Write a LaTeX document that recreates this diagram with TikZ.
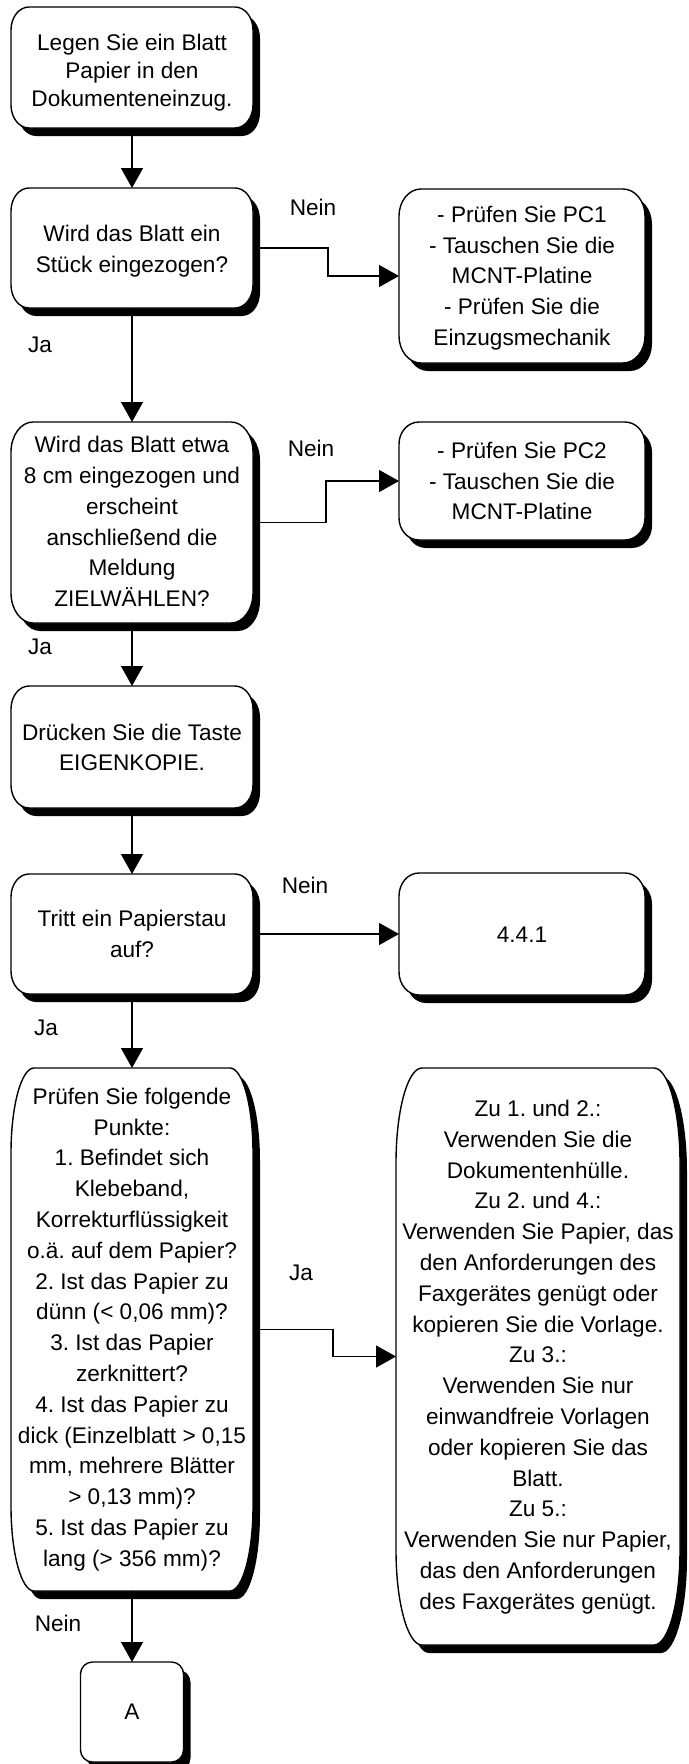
\documentclass[tikz,border=0pt]{standalone}
\usepackage{fontspec}
\setmainfont{Liberation Sans}
\frenchspacing
\usetikzlibrary{arrows.meta,calc}
\pgfdeclarelayer{background}
\pgfsetlayers{background,main}
\newcommand\shapebox[3]{%
\begin{pgfonlayer}{background}
\fill[black]
 ([xshift=7pt+#2,yshift=-8pt]#1.north west) -- ([xshift=7pt-#2,yshift=-8pt]#1.north east)
 arc[start angle=90,end angle=0,x radius=#2,y radius=#3]
 -- ([xshift=7pt,yshift=-8pt+#3]#1.south east)
 arc[start angle=0,end angle=-90,x radius=#2,y radius=#3]
 -- ([xshift=7pt+#2,yshift=-8pt]#1.south west)
 arc[start angle=-90,end angle=-180,x radius=#2,y radius=#3]
 -- ([xshift=7pt,yshift=-8pt-#3]#1.north west)
 arc[start angle=180,end angle=90,x radius=#2,y radius=#3] -- cycle;
\draw[boxline]
 ([xshift=#2]#1.north west) -- ([xshift=-#2]#1.north east)
 arc[start angle=90,end angle=0,x radius=#2,y radius=#3]
 -- ([yshift=#3]#1.south east)
 arc[start angle=0,end angle=-90,x radius=#2,y radius=#3]
 -- ([xshift=#2]#1.south west)
 arc[start angle=-90,end angle=-180,x radius=#2,y radius=#3]
 -- ([yshift=-#3]#1.north west)
 arc[start angle=180,end angle=90,x radius=#2,y radius=#3] -- cycle;
\end{pgfonlayer}}
\begin{document}
\begin{tikzpicture}[x=1pt,y=-1pt,
  boxframe/.style={inner sep=0pt,outer sep=0pt,draw=none},
  boxline/.style={draw=black,line width=1.4pt,fill=white},
  txt/.style={align=center,inner sep=0pt,font=\fontsize{22.6pt}{30.8pt}\selectfont},
  lbl/.style={inner sep=0pt,font=\fontsize{22.6pt}{30.8pt}\selectfont},
  conn/.style={line width=1.4pt,-{Triangle[length=20pt,width=22pt]}}]
\useasboundingbox (0,0) rectangle (688,1764);
\begin{pgfonlayer}{background}
\fill[white] (0,0) rectangle (688,1764);
\end{pgfonlayer}

% left column
\node[boxframe,minimum width=242pt,minimum height=121pt] (b1) at (132,67.5) {};
\node[txt,font=\fontsize{22.6pt}{28pt}\selectfont] (b1t) at (132,73) {Legen Sie ein Blatt\\Papier in den\\Dokumenteneinzug.};
\shapebox{b1}{18pt}{23pt}

\node[boxframe,minimum width=242pt,minimum height=120pt] (b2) at (132,248) {};
\node[txt] (b2t) at (132,251) {Wird das Blatt ein\\Stück eingezogen?};
\shapebox{b2}{18pt}{23pt}

\node[boxframe,minimum width=242pt,minimum height=201pt] (b3) at (132,522.5) {};
\node[txt] (b3t) at (132,521.5) {Wird das Blatt etwa\\8 cm eingezogen und\\erscheint\\anschließend die\\Meldung\\ZIELWÄHLEN?};
\shapebox{b3}{22pt}{30pt}

\node[boxframe,minimum width=242pt,minimum height=122pt] (b4) at (132,747) {};
\node[txt] (b4t) at (132,747.5) {Drücken Sie die Taste\\EIGENKOPIE.};
\shapebox{b4}{18pt}{23pt}

\node[boxframe,minimum width=242pt,minimum height=120pt] (b5) at (132,934) {};
\node[txt] (b5t) at (132,934) {Tritt ein Papierstau\\auf?};
\shapebox{b5}{18pt}{23pt}

\node[boxframe,minimum width=242pt,minimum height=523pt] (b6) at (132,1329.5) {};
\node[txt] (b6t) at (132,1329.5) {Prüfen Sie folgende\\Punkte:\\1. Befindet sich\\Klebeband,\\Korrekturflüssigkeit\\o.ä. auf dem Papier?\\2. Ist das Papier zu\\dünn (< 0,06 mm)?\\3. Ist das Papier\\zerknittert?\\4. Ist das Papier zu\\dick (Einzelblatt > 0,15\\mm, mehrere Blätter\\> 0,13 mm)?\\5. Ist das Papier zu\\lang (> 356 mm)?};
\shapebox{b6}{23pt}{85pt}

\node[boxframe,minimum width=103pt,minimum height=100pt] (bA) at (132,1712) {};
\node[txt] (bAt) at (132,1712) {A};
\shapebox{bA}{12pt}{12pt}

% right column
\node[boxframe,minimum width=246pt,minimum height=174pt] (r1) at (522,276) {};
\node[txt] (r1t) at (522,278) {- Prüfen Sie PC1\\- Tauschen Sie die\\MCNT-Platine\\- Prüfen Sie die\\Einzugsmechanik};
\shapebox{r1}{22pt}{27pt}

\node[boxframe,minimum width=246pt,minimum height=118pt] (r2) at (522,481) {};
\node[txt] (r2t) at (522,481) {- Prüfen Sie PC2\\- Tauschen Sie die\\MCNT-Platine};
\shapebox{r2}{20pt}{22pt}

\node[boxframe,minimum width=246pt,minimum height=122pt] (r3) at (522,934) {};
\node[txt] (r3t) at (522,935) {4.4.1};
\shapebox{r3}{20pt}{23pt}

\node[boxframe,minimum width=284pt,minimum height=577pt] (r4) at (538,1356.5) {};
\node[txt] (r4t) at (538,1357) {Zu 1. und 2.:\\Verwenden Sie die\\Dokumentenhülle.\\Zu 2. und 4.:\\Verwenden Sie Papier, das\\den Anforderungen des\\Faxgerätes genügt oder\\kopieren Sie die Vorlage.\\Zu 3.:\\Verwenden Sie nur\\einwandfreie Vorlagen\\oder kopieren Sie das\\Blatt.\\Zu 5.:\\Verwenden Sie nur Papier,\\das den Anforderungen\\des Faxgerätes genügt.};
\shapebox{r4}{26pt}{95pt}

% elbow points
\coordinate (k1) at (328,262);
\coordinate (k2) at (326,500);
\coordinate (k4) at (333,1343);

% connectors
\draw[conn] (b1.south) -- (b2.north);
\draw[conn] (b2.south) -- (b3.north);
\draw[conn] (b3.south) -- (b4.north);
\draw[conn] (b4.south) -- (b5.north);
\draw[conn] (b5.south) -- (b6.north);
\draw[conn] (b6.south) -- (bA.north);
\draw[conn] (b2.east) -| (k1) |- (r1.west);
\draw[conn] (b3.east) -| (k2) |- (r2.west);
\draw[conn] (b5.east) -- (r3.west);
\draw[conn] (b6.east) -| (k4) |- (r4.west);

% labels
\node[lbl] (l1) at (313,207) {Nein};
\node[lbl] (l2) at (40,345) {Ja};
\node[lbl] (l3) at (311,448) {Nein};
\node[lbl] (l4) at (40,647) {Ja};
\node[lbl] (l5) at (305,885) {Nein};
\node[lbl] (l6) at (46,1028) {Ja};
\node[lbl] (l7) at (301,1273) {Ja};
\node[lbl] (l8) at (58,1623) {Nein};
\end{tikzpicture}
\end{document}
